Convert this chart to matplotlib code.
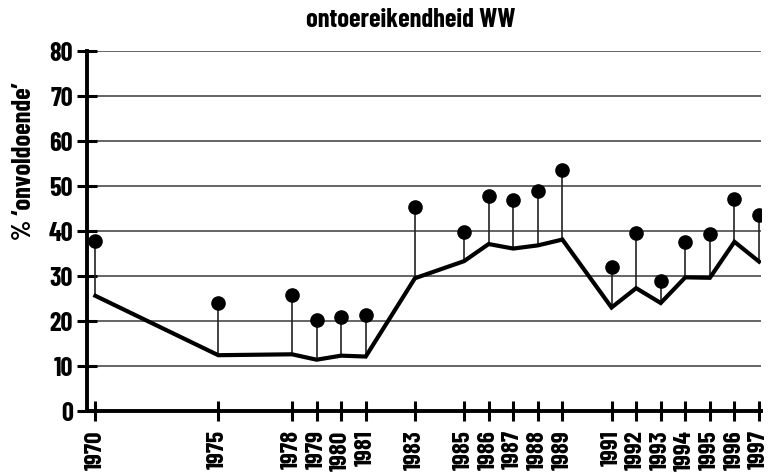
import matplotlib
matplotlib.use("Agg")
import matplotlib.pyplot as plt
from matplotlib import font_manager

years = [1970, 1975, 1978, 1979, 1980, 1981, 1983, 1985, 1986, 1987, 1988, 1989,
         1991, 1992, 1993, 1994, 1995, 1996, 1997]
dots = [37.8, 24.1, 25.8, 20.2, 21.0, 21.3, 45.3, 39.8, 47.7, 46.9, 48.8, 53.6,
        31.9, 39.5, 29.0, 37.6, 39.4, 47.1, 43.6]
line = [25.6, 12.4, 12.6, 11.4, 12.3, 12.1, 29.5, 33.3, 37.1, 36.1, 36.8, 38.1,
        23.0, 27.3, 24.0, 29.7, 29.6, 37.6, 33.2]
yticks = [0, 10, 20, 30, 40, 50, 60, 70, 80]
title = "ontoereikendheid WW"
ylabel = "% \u2018onvoldoende\u2019"

names = {f.name for f in font_manager.fontManager.ttflist}
fam = "Barlow Condensed" if "Barlow Condensed" in names else "DejaVu Sans"
plt.rcParams["font.family"] = [fam, "DejaVu Sans"]
plt.rcParams["font.weight"] = "bold"

W, H = 772, 477
fig = plt.figure(figsize=(W / 100, H / 100), dpi=100)
ax = fig.add_axes([87 / W, 1 - 412 / H, (761 - 87) / W, (412 - 52) / H])

ax.set_xlim(1969.66, 1997.08)
ax.set_ylim(0, 80)

for y in yticks[1:]:
    ax.axhline(y, color="#3a3a3a", lw=1.1, zorder=1)

ax.vlines(years, line, dots, color="#222222", lw=1.2, zorder=2)
ax.plot(years, line, color="black", lw=3.0, zorder=3, solid_joinstyle="miter")
ax.plot(years, dots, "o", color="black", markersize=9.5, zorder=4, linestyle="none")

for s in ["top", "right"]:
    ax.spines[s].set_visible(False)
ax.spines["left"].set_linewidth(2.8)
ax.spines["bottom"].set_linewidth(2.8)
ax.spines["left"].set_bounds(0, 80)

ax.set_yticks(yticks)
ax.set_yticklabels([str(v) for v in yticks], fontsize=19, fontweight="bold")
ax.set_xticks(years)
ax.set_xticklabels([str(v) for v in years], rotation=90, fontsize=18, fontweight="bold")
ax.tick_params(axis="y", direction="inout", length=14.4, width=2.2, pad=3)
ax.tick_params(axis="x", direction="inout", length=14.4, width=2.2, pad=6)

fig.text(411 / W, 1 - 20 / H, title, ha="center", va="center", fontsize=19, fontweight="bold")
fig.text(24 / W, 1 - 161 / H, ylabel, ha="center", va="center", rotation=90,
         fontsize=19, fontweight="bold")

fig.savefig("out.png", dpi=100)
